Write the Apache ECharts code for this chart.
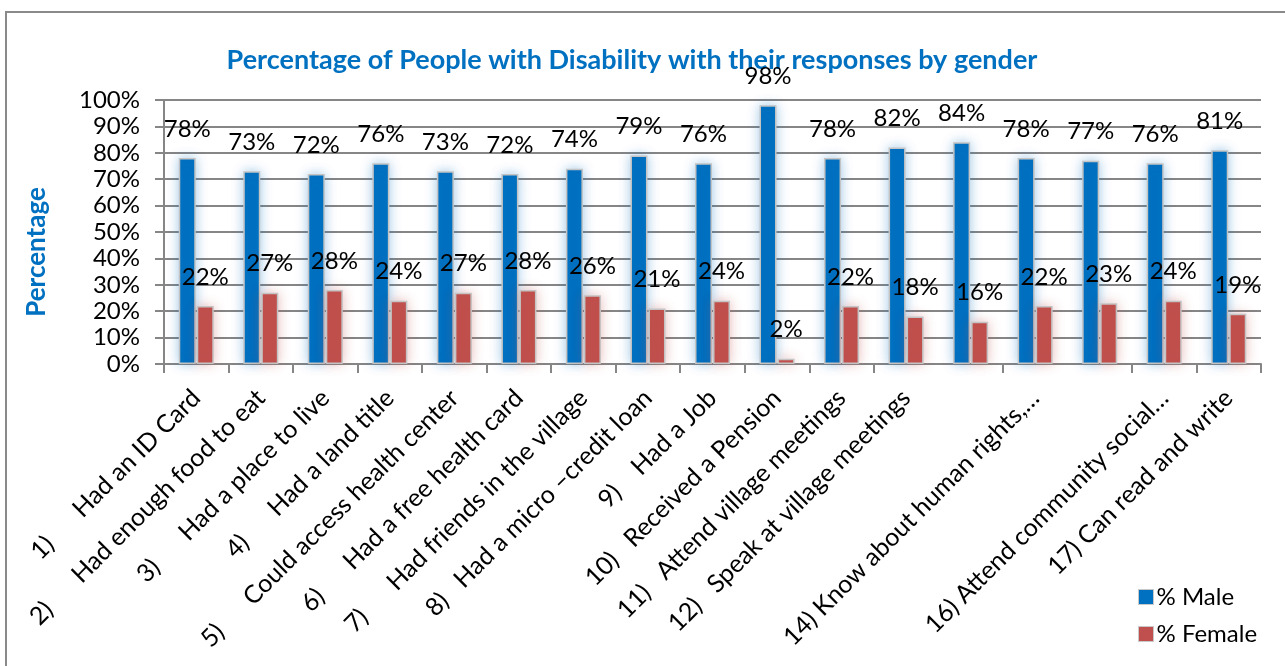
<!DOCTYPE html>
<html>
<head>
<meta charset="utf-8">
<script src="https://cdn.jsdelivr.net/npm/echarts@6/dist/echarts.min.js"></script>
<style>
html,body{margin:0;padding:0;background:#fff;}
#chart{width:1285px;height:666px;}
</style>
</head>
<body>
<div id="chart"></div>
<script>
var titleText = 'Percentage of People with Disability with their responses by gender';
var yAxisTitle = 'Percentage';
var categories = [
  '1)      Had an ID Card',
  '2)      Had enough food to eat',
  '3)      Had a place to live',
  '4)      Had a land title',
  '5)      Could access health center',
  '6)      Had a free health card',
  '7)      Had friends in the village',
  '8)   Had a micro \u2013credit loan',
  '9)    Had a Job',
  '10)   Received a Pension',
  '11)   Attend village meetings',
  '12)   Speak at village meetings',
  '13) Vote in elections',
  '14) Know about human rights,\u2026',
  '15) Member of a community group',
  '16) Attend community social\u2026',
  '17) Can read and write'
];
var hiddenLabels = [12, 14];
var seriesNames = ['% Male', '% Female'];
var maleValues = [78, 73, 72, 76, 73, 72, 74, 79, 76, 98, 78, 82, 84, 78, 77, 76, 81];
var femaleValues = [22, 27, 28, 24, 27, 28, 26, 21, 24, 2, 22, 18, 16, 22, 23, 24, 19];
var yTicks = [0, 10, 20, 30, 40, 50, 60, 70, 80, 90, 100];

var FONT = 'Lato';
var chart = echarts.init(document.getElementById('chart'), null, {renderer: 'canvas'});
var labelStyle = {show: true, position: 'top', distance: 17, formatter: '{c}%', color: '#000', fontFamily: FONT, fontSize: 24};
var option = {
  animation: false,
  backgroundColor: '#fff',
  graphic: [
    {type: 'rect', z: -10, shape: {x: 6, y: 12, width: 1300, height: 700}, style: {fill: 'none', stroke: '#8a8a8a', lineWidth: 2}},
    {type: 'text', x: 632, y: 60, style: {text: titleText, textAlign: 'center', textVerticalAlign: 'middle', fill: '#0070C0', font: 'bold 27px ' + FONT}},
    {type: 'text', x: 37, y: 252, rotation: Math.PI / 2, style: {text: yAxisTitle, textAlign: 'center', textVerticalAlign: 'middle', fill: '#0070C0', font: 'bold 26px ' + FONT}}
  ],
  legend: {
    orient: 'vertical',
    left: 1133,
    top: 580,
    itemWidth: 15,
    itemHeight: 15,
    itemGap: 13,
    icon: 'rect',
    textStyle: {fontFamily: FONT, fontSize: 24, color: '#000', padding: [0, 0, 0, -2]},
    itemStyle: {borderColor: '#c8c8c8', borderWidth: 1},
    data: seriesNames
  },
  grid: {left: 164, right: 24, top: 100, bottom: 302, containLabel: false},
  xAxis: {
    type: 'category',
    data: categories,
    boundaryGap: true,
    axisLine: {lineStyle: {color: '#868686', width: 2}},
    axisTick: {show: true, length: 9, lineStyle: {color: '#868686', width: 2}},
    axisLabel: {
      rotate: 45,
      margin: 30,
      fontFamily: FONT,
      fontSize: 25,
      color: '#000',
      interval: function (idx) { return hiddenLabels.indexOf(idx) < 0; }
    }
  },
  yAxis: {
    type: 'value',
    min: yTicks[0],
    max: yTicks[yTicks.length - 1],
    interval: 10,
    axisLine: {show: true, lineStyle: {color: '#868686', width: 2}},
    axisTick: {show: true, length: 9, lineStyle: {color: '#868686', width: 2}},
    splitLine: {show: true, lineStyle: {color: '#868686', width: 2}},
    axisLabel: {formatter: '{value}%', margin: 24, fontFamily: FONT, fontSize: 24, color: '#000'}
  },
  series: [
    {
      name: seriesNames[0],
      type: 'bar',
      data: maleValues,
      barWidth: 17,
      barGap: '6%',
      itemStyle: {color: '#0070C0', borderColor: '#c4c4c4', borderWidth: 1.5, shadowBlur: 12, shadowColor: 'rgba(0,112,192,0.35)'},
      label: labelStyle
    },
    {
      name: seriesNames[1],
      type: 'bar',
      data: femaleValues,
      barWidth: 17,
      itemStyle: {color: '#C0504D', borderColor: '#c4c4c4', borderWidth: 1.5, shadowBlur: 12, shadowColor: 'rgba(192,80,77,0.35)'},
      label: labelStyle
    }
  ]
};
chart.setOption(option);
</script>
</body>
</html>
